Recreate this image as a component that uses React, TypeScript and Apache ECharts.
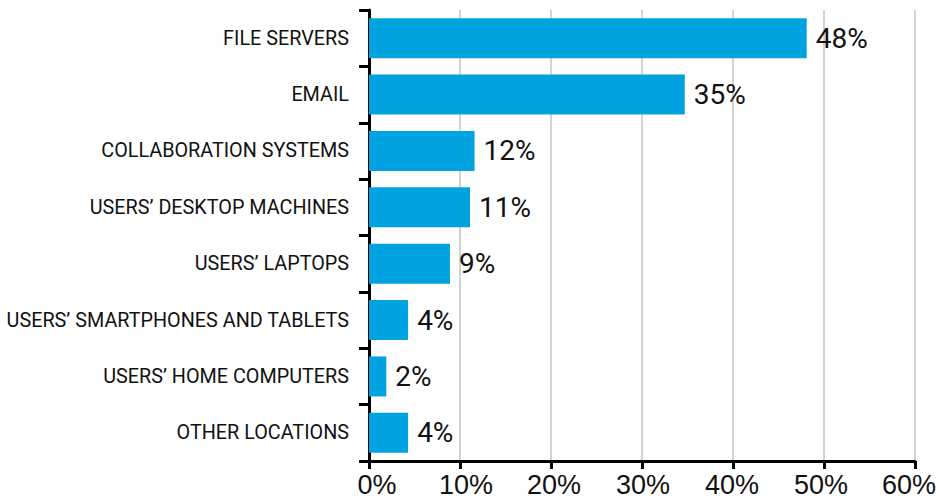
import React, { useEffect, useRef } from "react";
import * as echarts from "echarts";

const categories = [
  "FILE SERVERS",
  "EMAIL",
  "COLLABORATION SYSTEMS",
  "USERS’ DESKTOP MACHINES",
  "USERS’ LAPTOPS",
  "USERS’ SMARTPHONES AND TABLETS",
  "USERS’ HOME COMPUTERS",
  "OTHER LOCATIONS",
];
const values = [48.1, 34.7, 11.6, 11.1, 8.9, 4.3, 1.9, 4.3];
const valueLabels = ["48%", "35%", "12%", "11%", "9%", "4%", "2%", "4%"];
const xTicks = [0, 10, 20, 30, 40, 50, 60];

const NARROW = "'Liberation Sans Narrow', 'Roboto', 'DejaVu Sans Condensed', sans-serif";
const TICK_FONT = "'Liberation Sans', Arial, sans-serif";

// horizontal nudges of tick labels (px), as laid out in the reference
const labelShift = [8, 6, 3, 1, -1, -3, -6];

export default function App() {
  const ref = useRef<HTMLDivElement>(null);
  useEffect(() => {
    if (!ref.current) return;
    const chart = echarts.init(ref.current, null, { renderer: "svg" });
    const rich: Record<string, any> = {};
    labelShift.forEach((s, i) => {
      rich["t" + i] = {
        color: "#111",
        fontSize: 27,
        fontFamily: TICK_FONT,
        padding: s >= 0 ? [0, 0, 0, 2 * s] : [0, -2 * s, 0, 0],
      };
    });
    chart.setOption({
      animation: false,
      backgroundColor: "#ffffff",
      grid: {
        left: 369,
        right: 31,
        top: 10,
        bottom: 41,
        containLabel: false,
        outerBoundsMode: "none",
      },
      xAxis: {
        type: "value",
        min: xTicks[0],
        max: xTicks[xTicks.length - 1],
        interval: 10,
        axisLine: { show: true, lineStyle: { color: "#000", width: 3 } },
        axisTick: { show: true, length: 8, lineStyle: { color: "#000", width: 3 } },
        splitLine: { show: true, lineStyle: { color: "#c4c4c4", width: 1.5 } },
        axisLabel: {
          formatter: (v: number) => {
            const i = xTicks.indexOf(v);
            return `{t${i < 0 ? 0 : i}|${v}%}`;
          },
          rich,
          color: "#111",
          fontSize: 27,
          fontFamily: TICK_FONT,
          margin: 10,
          hideOverlap: false,
        },
      },
      yAxis: {
        type: "category",
        data: categories,
        inverse: true,
        axisLine: { show: true, lineStyle: { color: "#000", width: 3 } },
        axisTick: { show: true, length: 10, lineStyle: { color: "#000", width: 3 } },
        splitLine: { show: false },
        axisLabel: {
          color: "#111",
          fontSize: 19.8,
          fontFamily: NARROW,
          margin: 20,
        },
      },
      series: [
        {
          type: "bar",
          data: values,
          barWidth: 40,
          itemStyle: { color: "#00a3e0" },
          label: {
            show: true,
            position: "right",
            distance: 9,
            color: "#111",
            fontSize: 28,
            fontFamily: NARROW,
            formatter: (p: any) => valueLabels[p.dataIndex],
          },
        },
      ],
    });
    return () => chart.dispose();
  }, []);
  return (
    <div
      ref={ref}
      style={{ position: "fixed", left: 0, top: 0, width: 946, height: 502 }}
    />
  );
}
